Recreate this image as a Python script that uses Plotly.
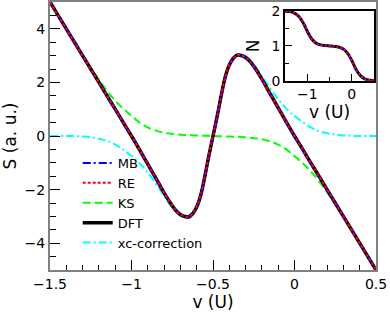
import plotly.graph_objects as go

# potential v (in units of U)
v = [-1.5, -1.4, -1.3, -1.25, -1.2, -1.15, -1.1, -1.05, -1.0, -0.95, -0.9, -0.85,
     -0.8, -0.75, -0.725, -0.7, -0.675, -0.65, -0.625, -0.6, -0.575, -0.55, -0.525,
     -0.5, -0.475, -0.45, -0.425, -0.4, -0.375, -0.35, -0.325, -0.3, -0.275, -0.25,
     -0.2, -0.15, -0.1, -0.05, 0.0, 0.05, 0.1, 0.15, 0.2, 0.25, 0.3, 0.4, 0.5]

# S (a. u.)
s_dft = [5.0, 4.0, 3.0, 2.5, 2.0, 1.5, 1.0, 0.5, 0.0, -0.52, -1.05, -1.58,
         -2.12, -2.6, -2.8, -2.93, -3.0, -3.02, -2.9, -2.65, -2.2, -1.5, -0.72,
         0.0, 0.72, 1.5, 2.2, 2.65, 2.9, 3.02, 3.0, 2.93, 2.8, 2.6,
         2.12, 1.58, 1.05, 0.52, 0.0, -0.5, -1.0, -1.5, -2.0, -2.5, -3.0, -4.0, -5.0]
s_mb = list(s_dft)
s_re = list(s_dft)
s_ks = [5.0, 4.0, 3.02, 2.55, 2.1, 1.68, 1.32, 1.02, 0.75, 0.5, 0.32, 0.2,
        0.12, 0.08, 0.06, 0.05, 0.04, 0.03, 0.025, 0.02, 0.015, 0.01, 0.005,
        0.0, -0.005, -0.01, -0.015, -0.02, -0.025, -0.03, -0.04, -0.05, -0.06, -0.08,
        -0.12, -0.2, -0.32, -0.5, -0.75, -1.02, -1.32, -1.68, -2.1, -2.55, -3.02, -4.0, -5.0]
s_xc = [0.0, 0.0, -0.02, -0.05, -0.1, -0.18, -0.32, -0.52, -0.75, -1.02, -1.37, -1.78,
        -2.24, -2.68, -2.86, -2.98, -3.04, -3.05, -2.92, -2.67, -2.21, -1.51, -0.72,
        0.0, 0.72, 1.51, 2.21, 2.67, 2.92, 3.05, 3.04, 2.98, 2.86, 2.68,
        2.24, 1.78, 1.37, 1.02, 0.75, 0.52, 0.32, 0.18, 0.1, 0.05, 0.02, 0.0, 0.0]

# inset: occupation N(v)
v_in = [-1.5, -1.4, -1.3, -1.2, -1.1, -1.0, -0.9, -0.8, -0.7, -0.6, -0.5,
        -0.4, -0.3, -0.2, -0.1, 0.0, 0.1, 0.2, 0.3, 0.4, 0.5]
n_dft = [1.995, 1.985, 1.95, 1.86, 1.68, 1.42, 1.2, 1.08, 1.03, 1.01, 1.0,
         0.99, 0.97, 0.92, 0.8, 0.58, 0.32, 0.14, 0.05, 0.015, 0.005]

FONT = "DejaVu Sans"
GRAY = "#808080"

fig = go.Figure()

fig.add_trace(go.Scatter(x=v, y=s_ks, mode="lines", name="KS", legendrank=3,
                         line=dict(color="#00ff00", width=2, dash="8px,4px")))
fig.add_trace(go.Scatter(x=v, y=s_xc, mode="lines", name="xc-correction", legendrank=5,
                         line=dict(color="#00ffff", width=2, dash="8px,3px,2px,3px")))
fig.add_trace(go.Scatter(x=v, y=s_dft, mode="lines", name="DFT", legendrank=4,
                         line=dict(color="black", width=3.5)))
fig.add_trace(go.Scatter(x=v, y=s_mb, mode="lines", name="MB", legendrank=1,
                         line=dict(color="#0000ff", width=2, dash="8px,3px,2px,3px")))
fig.add_trace(go.Scatter(x=v, y=s_re, mode="lines", name="RE", legendrank=2,
                         line=dict(color="#ff0000", width=2, dash="3px,2px")))

# inset curves
fig.add_trace(go.Scatter(x=v_in, y=n_dft, mode="lines", showlegend=False,
                         xaxis="x2", yaxis="y2", line=dict(color="black", width=3)))
fig.add_trace(go.Scatter(x=v_in, y=n_dft, mode="lines", showlegend=False,
                         xaxis="x2", yaxis="y2",
                         line=dict(color="#0000ff", width=2, dash="6px,2px,2px,2px")))
fig.add_trace(go.Scatter(x=v_in, y=n_dft, mode="lines", showlegend=False,
                         xaxis="x2", yaxis="y2",
                         line=dict(color="#ff0000", width=2, dash="2px,2px")))

fig.update_traces(line_shape="spline")

fig.update_layout(
    template="none",
    width=390, height=320,
    margin=dict(l=50, r=14, t=2, b=50),
    paper_bgcolor="white", plot_bgcolor="white",
    font=dict(family=FONT, color="black", size=14),
    showlegend=True,
    legend=dict(x=0.085, y=0.25, xanchor="left", yanchor="middle",
                bgcolor="rgba(0,0,0,0)", font=dict(size=13)),
    xaxis=dict(range=[-1.5, 0.5], domain=[0, 1], anchor="y", automargin=False,
               showline=True, linecolor=GRAY, linewidth=2, mirror=True,
               ticks="inside", ticklen=10, tickcolor="black", tickwidth=1,
               tick0=-1.5, dtick=0.5, showgrid=False, zeroline=False,
               minor=dict(ticks="inside", ticklen=5, dtick=0.1, tickcolor="black"),
               title=dict(text="v (U)", font=dict(size=17), standoff=2)),
    yaxis=dict(range=[-5, 5], domain=[0, 1], anchor="x", automargin=False,
               showline=True, linecolor=GRAY, linewidth=2, mirror=True,
               ticks="inside", ticklen=10, tickcolor="black", tickwidth=1,
               tick0=0, dtick=2, showgrid=False, zeroline=False,
               minor=dict(ticks="inside", ticklen=6, dtick=0.5, tickcolor="black"),
               title=dict(text="S (a. u.)", font=dict(size=17), standoff=6)),
    xaxis2=dict(range=[-1.5, 0.5], domain=[0.721, 0.994], anchor="y2", automargin=False,
                showline=True, linecolor="black", linewidth=1.5, mirror=True,
                ticks="inside", ticklen=7, tickcolor="black",
                tick0=0, dtick=1, showgrid=False, zeroline=False,
                minor=dict(ticks="inside", ticklen=4, dtick=0.5, tickcolor="black"),
                tickfont=dict(size=14),
                title=dict(text="v (U)", font=dict(size=17), standoff=0)),
    yaxis2=dict(range=[0, 2], domain=[0.706, 0.966], anchor="x2", automargin=False,
                showline=True, linecolor="black", linewidth=1.5, mirror=True,
                ticks="inside", ticklen=7, tickcolor="black",
                tick0=0, dtick=1, showgrid=False, zeroline=False,
                minor=dict(ticks="inside", ticklen=4, dtick=0.5, tickcolor="black"),
                tickfont=dict(size=14),
                title=dict(text="N", font=dict(size=17), standoff=8)),
)

# the page's default body margin would shift the figure by 8px
fig.write_html("out.html", config={"displayModeBar": False},
               post_script="document.body.style.margin = '0';")
